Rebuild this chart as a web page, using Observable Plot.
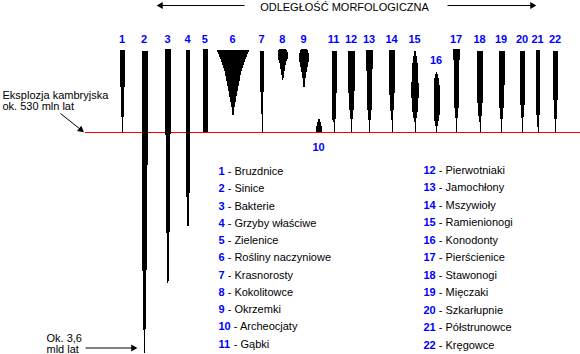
<!DOCTYPE html>
<html><head><meta charset="utf-8">
<script src="https://cdn.jsdelivr.net/npm/d3@7"></script>
<script src="https://cdn.jsdelivr.net/npm/@observablehq/plot@0.6"></script>
<style>body{margin:0;background:#fff}svg{display:block}</style>
</head><body><div id="chart"></div>
<script>
// Group numbers (1..22) and their horizontal position (morphological distance, arbitrary units)
const groupIds = [1,2,3,4,5,6,7,8,9,10,11,12,13,14,15,16,17,18,19,20,21,22];
const groupPos = [122.5,144.5,168,188,205.3,233,262,282.7,304,319,334,351.5,369.5,392,415,436.5,456.5,480,501.5,522.5,538,555.5];
// Spindle profiles: [depth (time, arbitrary units, top = present), width (diversity)]
const profiles = [
  [[50,5],[85,5],[88,3.5],[107,3],[117,2],[118,1],[132,1]],
  [[51,6],[165,6],[166,5],[200,5],[258,4.5],[283,3.5],[305,2.5],[330,2],[353,1.5]],
  [[49,7],[70,6.5],[100,6],[135,5],[160,4.5],[225,4],[240,2],[252,1.5],[283,1]],
  [[50,4.5],[80,4],[120,3.5],[197,3],[215,2],[226,1]],
  [[49,4.5],[132,4.5]],
  [[50,33],[60,24],[73,16],[90,9.3],[103,4.7],[110,2],[115,1]],
  [[51,4],[90,4],[92,3],[112,2.5],[114,1],[132,1]],
  [[48.5,4],[50,8],[52,10],[58,10],[63,6.5],[73,3],[80,1]],
  [[48.5,4],[51,8],[55,10],[60,10],[70,5.7],[78,3],[87,1]],
  [[118,0.5],[122,3],[126,5],[132,6.5]],
  [[51,5],[93,5],[95,3.5],[120,3],[122,1],[132,1]],
  [[51,6.5],[93,6],[110,4],[118,3],[120,1],[132,1]],
  [[50,6.5],[90,5.5],[110,4],[120,2],[123,1],[132,1]],
  [[50,5.5],[95,5],[103,3.5],[118,2.5],[120,1],[132,1]],
  [[51,1],[58,4],[70,6.5],[95,7.5],[112,5],[120,2.5],[122,1],[132,1]],
  [[72,1],[78,4],[85,6],[115,6],[124,3],[128,1],[132,1]],
  [[49,6.5],[60,6],[90,5],[108,4],[118,2],[120,1],[132,1]],
  [[51,6],[90,6],[110,4.5],[118,2.5],[122,1],[132,1]],
  [[51,6],[85,6],[105,4.5],[118,2.5],[121,1],[132,1]],
  [[51,6],[75,5.5],[100,4.5],[115,3],[120,1],[132,1]],
  [[50,4.5],[100,4],[115,3],[125,2],[127,1],[132,1]],
  [[51,6],[80,5],[100,4],[115,3],[123,1],[132,1]]
];
const groupNames = ["Bruzdnice","Sinice","Bakterie","Grzyby właściwe","Zielenice","Rośliny naczyniowe","Krasnorosty","Kokolitowce","Okrzemki","Archeocjaty","Gąbki","Pierwotniaki","Jamochłony","Mszywioły","Ramienionogi","Konodonty","Pierścienice","Stawonogi","Mięczaki","Szkarłupnie","Półstrunowce","Kręgowce"];
const cambrianDepth = 132;
const cambrianText = ["Eksplozja kambryjska","ok. 530 mln lat"];
const originText = ["Ok. 3,6","mld lat"];
const axisTitle = "ODLEGŁOŚĆ MORFOLOGICZNA";

const BLUE = "#0000ff";
const FONT = "Liberation Sans, Arial, Helvetica, sans-serif";

const spindles = groupIds.flatMap((id, i) => profiles[i].map(([y, w]) => ({id, y, x1: groupPos[i] - w / 2, x2: groupPos[i] + w / 2})));

// top labels: 10 and 16 are placed differently
const topLabels = groupIds.map((id, i) => ({
  id, x: groupPos[i] - 1,
  y: id === 10 ? 150 : id === 16 ? 63 : 42
}));

// legend
const legendRows = groupIds.map((id, i) => {
  const left = i < 11;
  const k = left ? i : i - 11;
  const x0 = left ? 218 : 423;
  const y = left ? 174.7 + k * 17.23 : 173 + k * 17.5;
  const digits = String(id).length;
  return {id, x: x0, y, nx: x0 + digits * 6.12 + 3.06, label: "- " + groupNames[i]};
});

const arrows = [
  {x1: 244, y1: 5, x2: 158, y2: 5},
  {x1: 447, y1: 5, x2: 534, y2: 5},
  {x1: 60, y1: 113, x2: 82, y2: 130.5},
  {x1: 85, y1: 347.5, x2: 135, y2: 347.5}
];
// filled arrowheads, placed just behind each arrow tip
const heads = arrows.map(a => {
  const ang = Math.atan2(a.y2 - a.y1, a.x2 - a.x1);
  return {x: a.x2 - 2.2 * Math.cos(ang), y: a.y2 - 2.2 * Math.sin(ang), rotate: ang * 180 / Math.PI + 90};
});

const chart = Plot.plot({
  width: 580, height: 354,
  margin: 0,
  x: {domain: [0, 580], range: [0, 580], axis: null},
  y: {domain: [0, 354], range: [0, 354], axis: null},
  style: {background: "white", fontFamily: FONT},
  marks: [
    Plot.ruleY([cambrianDepth], {x1: 85, x2: 580, stroke: "#ff0000", strokeWidth: 1, shapeRendering: "crispEdges"}),
    Plot.areaX(spindles, {y: "y", x1: "x1", x2: "x2", z: "id", fill: "black", curve: "linear", shapeRendering: "crispEdges"}),
    Plot.link(arrows, {x1: "x1", y1: "y1", x2: "x2", y2: "y2", stroke: "black", strokeWidth: 1}),
    Plot.dot(heads, {x: "x", y: "y", rotate: "rotate", symbol: "triangle", r: 2.6, fill: "black", stroke: "none"}),
    Plot.text(topLabels, {x: "x", y: "y", text: "id", fill: BLUE, fontWeight: "bold", fontSize: 11, textAnchor: "middle", lineAnchor: "bottom"}),
    Plot.text(legendRows, {x: "x", y: "y", text: "id", fill: BLUE, fontWeight: "bold", fontSize: 11, textAnchor: "start", lineAnchor: "bottom"}),
    Plot.text(legendRows, {x: "nx", y: "y", text: "label", fill: "black", fontSize: 11, textAnchor: "start", lineAnchor: "bottom"}),
    Plot.text([axisTitle], {x: 344, y: 10, text: d => d, fill: "black", fontSize: 11, textAnchor: "middle", lineAnchor: "bottom"}),
    Plot.text(cambrianText, {x: 2, y: (d, i) => 98.5 + i * 11, text: d => d, fill: "black", fontSize: 11, textAnchor: "start", lineAnchor: "bottom"}),
    Plot.text(originText, {x: 46, y: (d, i) => 341.7 + i * 11, text: d => d, fill: "black", fontSize: 11, textAnchor: "start", lineAnchor: "bottom"})
  ]
});
document.getElementById("chart").appendChild(chart);
</script>
</body></html>
